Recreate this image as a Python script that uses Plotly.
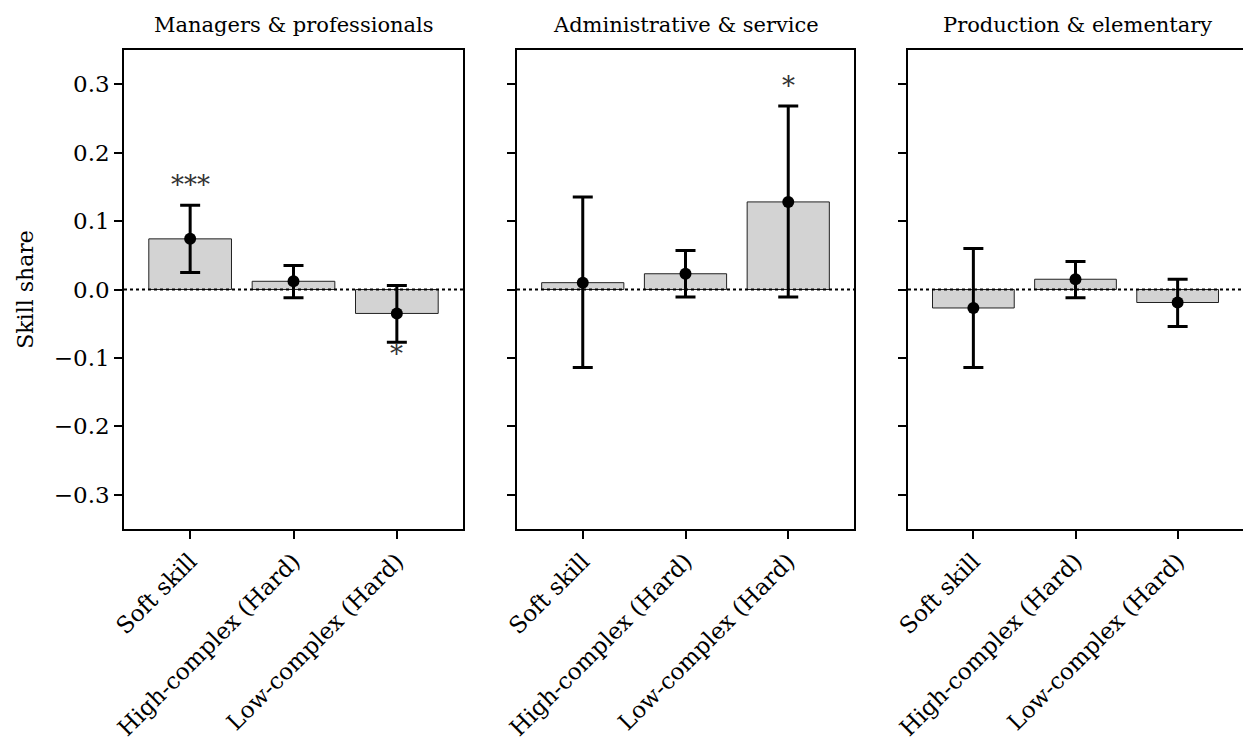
import plotly.graph_objects as go

groups = ["Managers & professionals", "Administrative & service", "Production & elementary"]
skills = ["Soft skill", "High-complex (Hard)", "Low-complex (Hard)"]

estimates = [
    [0.074, 0.012, -0.035],
    [0.010, 0.023, 0.128],
    [-0.027, 0.015, -0.019],
]
ci_low = [
    [0.025, -0.012, -0.077],
    [-0.114, -0.011, -0.011],
    [-0.114, -0.012, -0.054],
]
ci_high = [
    [0.123, 0.035, 0.006],
    [0.135, 0.057, 0.268],
    [0.060, 0.041, 0.015],
]
stars = [
    ["***", "", "*"],
    ["", "", "*"],
    ["", "", ""],
]
y_ticks = [-0.3, -0.2, -0.1, 0.0, 0.1, 0.2, 0.3]

FONT = "DejaVu Serif"
FS = 21

W, H = 1243, 742
left, right, top, bottom = 124, 0, 50, 213
plot_w = W - left - right
px_domains = [(124, 463), (517, 854), (908, 1246)]
domains = [((a - left) / plot_w, min(1.0, (b - left) / plot_w)) for a, b in px_domains]
title_centers = [((a + b) / 2 - left) / plot_w for a, b in px_domains]

fig = go.Figure()
x_idx = list(range(len(skills)))

for i, g in enumerate(groups):
    xa = "x" if i == 0 else f"x{i+1}"
    ya = "y" if i == 0 else f"y{i+1}"
    est = estimates[i]
    fig.add_trace(go.Bar(
        x=x_idx, y=est, width=0.8,
        marker=dict(color="#d3d3d3", line=dict(color="#222222", width=1)),
        xaxis=xa, yaxis=ya, showlegend=False, hoverinfo="skip",
    ))
    fig.add_shape(type="line", xref=f"{xa} domain", yref=ya, x0=0, x1=1, y0=0, y1=0,
                  line=dict(color="black", width=2, dash="dot"), layer="above")
    fig.add_trace(go.Scatter(
        x=x_idx, y=est, mode="markers",
        marker=dict(color="black", size=12),
        error_y=dict(type="data", symmetric=False,
                     array=[h - e for h, e in zip(ci_high[i], est)],
                     arrayminus=[e - l for l, e in zip(ci_low[i], est)],
                     color="black", thickness=3, width=10),
        xaxis=xa, yaxis=ya, showlegend=False,
    ))
    for j, s in enumerate(stars[i]):
        if not s:
            continue
        if est[j] >= 0:
            yv = ci_high[i][j] + 0.034
            shift = -3
        else:
            yv = ci_low[i][j] - 0.008
            shift = -6
        fig.add_annotation(x=j, y=yv, xref=xa, yref=ya, text=s, showarrow=False,
                           xanchor="center", yanchor="middle", yshift=shift,
                           font=dict(family=FONT, size=26, color="#333333"))
    fig.add_annotation(x=title_centers[i], y=1, xref="paper", yref="paper",
                       xanchor="center", yanchor="middle", yshift=25,
                       text=g, showarrow=False,
                       font=dict(family=FONT, size=FS, color="black"))

axis_common = dict(showline=True, linecolor="black", linewidth=1.5, mirror=True,
                   ticks="outside", ticklen=8, tickwidth=1.5, tickcolor="black",
                   showgrid=False, zeroline=False, automargin=False)

layout = dict(
    width=W, height=H,
    margin=dict(l=left, r=right, t=top, b=bottom, autoexpand=False),
    plot_bgcolor="white", paper_bgcolor="white",
    font=dict(family=FONT, size=FS, color="black"),
)
for i in range(3):
    xk = "xaxis" if i == 0 else f"xaxis{i+1}"
    yk = "yaxis" if i == 0 else f"yaxis{i+1}"
    layout[xk] = dict(domain=list(domains[i]), range=[-0.64, 2.64],
                      tickmode="array", tickvals=x_idx, ticktext=skills,
                      tickangle=-45, tickfont=dict(size=23),
                      anchor="y" if i == 0 else f"y{i+1}",
                      **axis_common)
    layout[yk] = dict(domain=[0, 1], range=[-0.35, 0.35], tickmode="array",
                      tickvals=y_ticks, tickformat=".1f", showticklabels=(i == 0),
                      tickfont=dict(size=23),
                      anchor="x" if i == 0 else f"x{i+1}",
                      title=dict(text="Skill share", standoff=14, font=dict(size=22)) if i == 0 else None,
                      **axis_common)
fig.update_layout(**layout)

fig.write_html("out.html")
